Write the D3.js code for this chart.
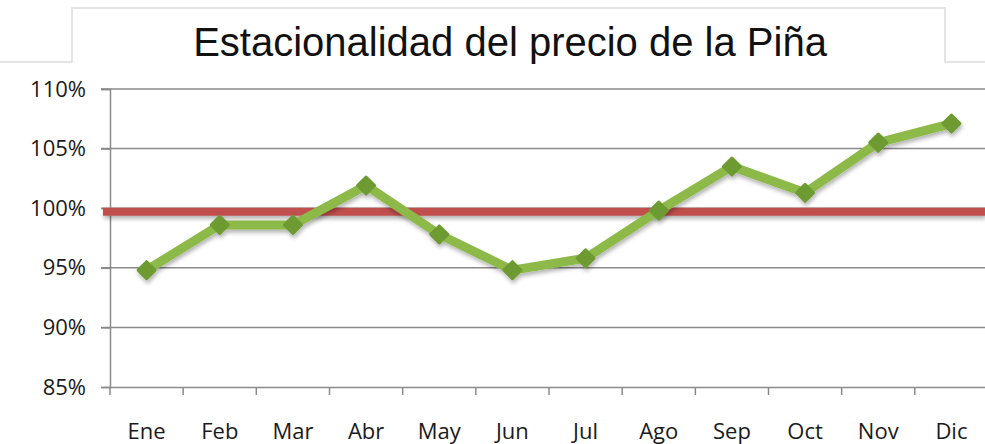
<!DOCTYPE html>
<html>
<head>
<meta charset="utf-8">
<script src="https://cdn.jsdelivr.net/npm/d3@7"></script>
<style>
  body { margin: 0; background: #fff; }
  svg text { font-family: "Open Sans", "Lato", sans-serif; }
</style>
</head>
<body>
<div id="chart"></div>
<script>
/**
 * DATA
 * */
const months = ["Ene", "Feb", "Mar", "Abr", "May", "Jun", "Jul", "Ago", "Sep", "Oct", "Nov", "Dic"];
const seasonalIndex = [94.8, 98.6, 98.6, 101.9, 97.8, 94.8, 95.8, 99.8, 103.5, 101.3, 105.5, 107.1];
const baseline = [99.7];
const yTicks = [85, 90, 95, 100, 105, 110];
const title = "Estacionalidad del precio de la Piña";

/**
 * CONSTANTS
 * */
const width = 985,
  height = 444,
  margin = { top: 89, bottom: 57, left: 110, right: -3 };

const svg = d3.select("#chart")
  .append("svg")
  .attr("width", width)
  .attr("height", height);

// soft shadow used under the lines (user space so flat lines still work)
const defs = svg.append("defs");
const shadow = defs.append("filter")
  .attr("id", "shadow")
  .attr("filterUnits", "userSpaceOnUse")
  .attr("x", 0).attr("y", 0)
  .attr("width", width).attr("height", height);
shadow.append("feDropShadow")
  .attr("dx", 1).attr("dy", 3)
  .attr("stdDeviation", 2)
  .attr("flood-color", "#000")
  .attr("flood-opacity", 0.3);

// title box
svg.append("path")
  .attr("d", "M0,62 H72 V8 H945 V62 H985")
  .attr("stroke", "#dcdcdc")
  .attr("stroke-width", 1.5)
  .attr("fill", "none");

svg.append("text")
  .attr("x", 510)
  .attr("y", 56)
  .attr("text-anchor", "middle")
  .attr("font-size", 40)
  .style("font-family", "'Liberation Sans', Arial, sans-serif")
  .attr("fill", "#111")
  .text(title);

// scales
const x = d3.scaleBand()
  .domain(months)
  .range([margin.left, width - margin.right]);

const y = d3.scaleLinear()
  .domain([85, 110])
  .range([height - margin.bottom, margin.top]);

// gridlines
svg.append("g")
  .selectAll("line")
  .data(yTicks.slice(1))
  .join("line")
  .attr("x1", margin.left - 9)
  .attr("x2", width)
  .attr("y1", d => y(d))
  .attr("y2", d => y(d))
  .attr("stroke", "#8a8a8a")
  .attr("stroke-width", 1.5);

// y axis
const yAxis = svg.append("g")
  .attr("transform", `translate(${margin.left},0)`)
  .call(d3.axisLeft(y).tickValues(yTicks).tickFormat(d => d + "%").tickSize(9).tickPadding(15));
yAxis.select(".domain").attr("stroke", "#8a8a8a").attr("stroke-width", 1.5);
yAxis.selectAll(".tick line").attr("stroke", "#8a8a8a").attr("stroke-width", 1.5);
yAxis.selectAll("text")
  .attr("font-size", 22)
  .attr("fill", "#1a1a1a")
  .style("font-family", "'Open Sans', sans-serif");

// x axis
const xAxis = svg.append("g")
  .attr("transform", `translate(0,${y(85)})`)
  .call(d3.axisBottom(x).tickSize(0).tickPadding(36));
xAxis.select(".domain").attr("stroke", "#8a8a8a").attr("stroke-width", 1.5);
xAxis.selectAll("text")
  .attr("font-size", 22)
  .attr("fill", "#1a1a1a")
  .style("font-family", "'Open Sans', sans-serif");

// category tick marks at band boundaries
svg.append("g")
  .selectAll("line")
  .data(months)
  .join("line")
  .attr("x1", d => x(d))
  .attr("x2", d => x(d))
  .attr("y1", y(85))
  .attr("y2", y(85) + 8)
  .attr("stroke", "#8a8a8a")
  .attr("stroke-width", 1.5);

// red reference line
svg.append("g")
  .attr("filter", "url(#shadow)")
  .selectAll("line")
  .data(baseline)
  .join("line")
  .attr("x1", margin.left - 7)
  .attr("x2", width)
  .attr("y1", d => y(d))
  .attr("y2", d => y(d))
  .attr("stroke", "#c0504d")
  .attr("stroke-width", 8);

// green series
const series = months.map((m, i) => ({ month: m, value: seasonalIndex[i] }));

const line = d3.line()
  .x(d => x(d.month) + x.bandwidth() / 2)
  .y(d => y(d.value));

const seriesG = svg.append("g").attr("filter", "url(#shadow)");

seriesG.append("path")
  .datum(series)
  .attr("d", line)
  .attr("fill", "none")
  .attr("stroke", "#8cb947")
  .attr("stroke-width", 9)
  .attr("stroke-linejoin", "miter");

seriesG.selectAll("rect")
  .data(series)
  .join("rect")
  .attr("x", -7.5)
  .attr("y", -7.5)
  .attr("width", 15)
  .attr("height", 15)
  .attr("rx", 1.5)
  .attr("fill", "#6e9a33")
  .attr("transform", d => `translate(${x(d.month) + x.bandwidth() / 2},${y(d.value)}) rotate(45)`);
</script>
</body>
</html>
